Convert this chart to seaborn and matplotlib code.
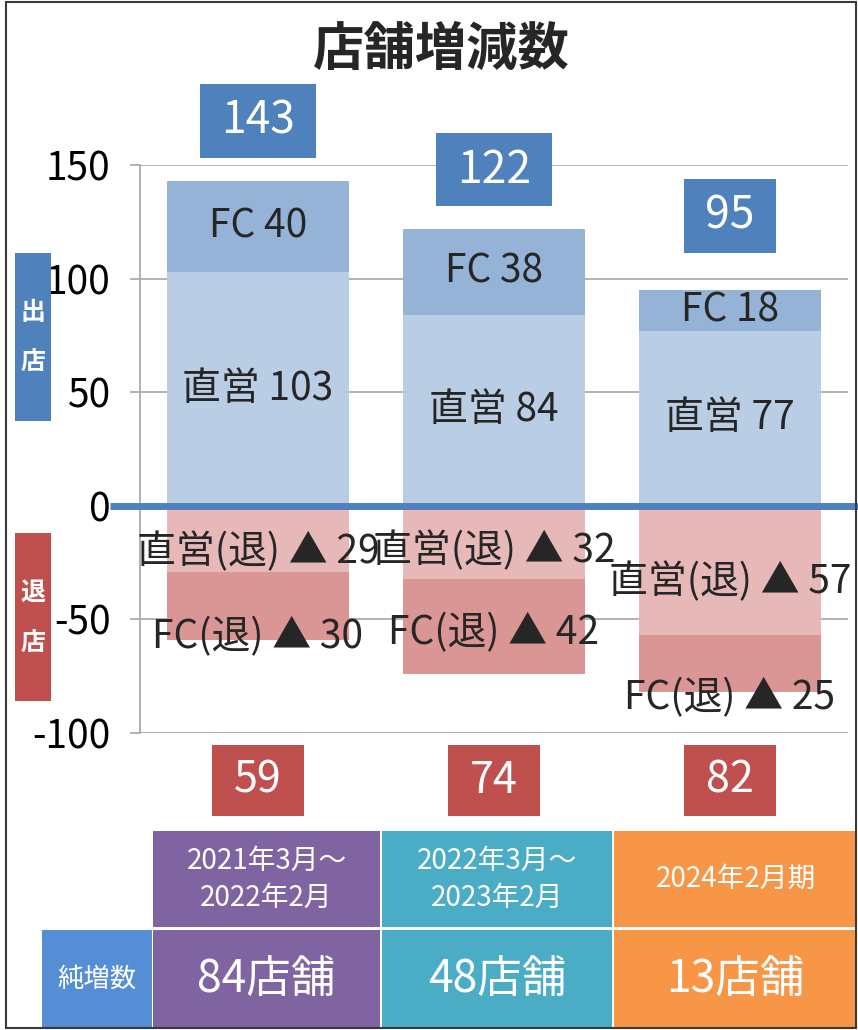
import matplotlib
matplotlib.use("Agg")
import numpy as np
import pandas as pd
import seaborn as sns
import matplotlib.pyplot as plt
import matplotlib.transforms as mtransforms
from matplotlib.path import Path
from matplotlib.patches import Rectangle

# ---------------- data ----------------
periods = ["2021年3月～\n2022年2月", "2022年3月～\n2023年2月", "2024年2月期"]
open_direct = [103, 84, 77]     # 直営 出店
open_fc = [40, 38, 18]          # FC 出店
close_direct = [29, 32, 57]     # 直営 退店
close_fc = [30, 42, 25]         # FC 退店
y_ticks = [-100, -50, 0, 50, 100, 150]

# ---------------- style ----------------
sns.set_theme(style="white")
LAT = "Liberation Sans Narrow"
JP = "Noto Sans CJK JP"
FAM = [LAT, JP, "DejaVu Sans"]
plt.rcParams["font.family"] = FAM

C_DIRECT = "#b9cde5"
C_FC = "#95b3d7"
C_CDIRECT = "#e6b9b8"
C_CFC = "#d99694"
C_BLUE = "#4f81bd"
C_RED = "#c0504d"
COL_COLORS = ["#8064a2", "#4bacc6", "#f79646"]
C_NET = "#558ed5"

W, H = 858, 1030
def fx(px):
    return px / W
def fy(py):
    return 1 - py / H

df = pd.DataFrame({
    "period": periods,
    "open_direct": open_direct,
    "open_total": np.add(open_direct, open_fc),
    "close_direct": -np.asarray(close_direct),
    "close_total": -(np.asarray(close_direct) + np.asarray(close_fc)),
})
net = df["open_total"] + df["close_total"]

fig = plt.figure(figsize=(W / 100, H / 100), dpi=100)
ax = fig.add_axes([fx(140), fy(733), 708 / W, 568 / H])

bw = 0.767
for col, colr in [("open_total", C_FC), ("open_direct", C_DIRECT),
                  ("close_total", C_CFC), ("close_direct", C_CDIRECT)]:
    sns.barplot(data=df, x="period", y=col, order=periods, color=colr,
                saturation=1, width=bw, errorbar=None, linewidth=0, ax=ax)

ax.set_ylim(-100, 150)
ax.set_xlim(-0.5, len(periods) - 0.5)
ax.set_yticks(y_ticks)
ax.set_yticklabels([str(t) for t in y_ticks])
ax.set_xticks([])
ax.set_xlabel("")
ax.set_ylabel("")
ax.yaxis.grid(True, color="#a6a6a6", linewidth=1.2)
ax.set_axisbelow(True)
for s in ["top", "right", "bottom"]:
    ax.spines[s].set_visible(False)
ax.spines["left"].set_color("#a6a6a6")
ax.spines["left"].set_linewidth(1.2)
ax.tick_params(axis="y", which="major", left=True, length=7.2, width=1.2,
               color="#a6a6a6", pad=14, labelsize=28, labelcolor="black")
for lab in ax.get_yticklabels():
    lab.set_family(FAM)

# zero line extending beyond the axes
trans = mtransforms.blended_transform_factory(fig.transFigure, ax.transData)
ax.plot([fx(110), 1.0], [0, 0], transform=trans, color=C_BLUE, lw=5,
        clip_on=False, zorder=6, solid_capstyle="butt")

# labels inside bars
neg_shift_direct = [-6, -4, -5]
neg_shift_fc = [-14, -3, -15]
for i in range(len(periods)):
    d, f = open_direct[i], open_fc[i]
    ax.text(i, d / 2, f"直営 {d}", ha="center", va="center", fontsize=28,
            family=FAM, zorder=7)
    ax.text(i, d + f / 2, f"FC {f}", ha="center", va="center", fontsize=28,
            family=FAM, zorder=7)
    cd, cf = close_direct[i], close_fc[i]
    ax.text(i, -cd / 2 + neg_shift_direct[i], f"直営(退) ▲ {cd}", ha="center",
            va="center", fontsize=28, family=FAM, zorder=7)
    ax.text(i, -(cd + cf / 2) + neg_shift_fc[i], f"FC(退) ▲ {cf}", ha="center",
            va="center", fontsize=28, family=FAM, zorder=7)


def pad_box(px, py):
    def style(x0, y0, width, height, mutation_size):
        dx, dy = px * mutation_size, py * mutation_size
        x1, y1 = x0 - dx, y0 - dy
        x2, y2 = x0 + width + dx, y0 + height + dy
        return Path([(x1, y1), (x2, y1), (x2, y2), (x1, y2), (x1, y1)], closed=True)
    return style

# totals above bars
top_offsets = [60, 59, 74]
for i in range(len(periods)):
    tot = int(df["open_total"][i])
    ax.annotate(str(tot), xy=(i, tot), xytext=(0, top_offsets[i]),
                textcoords="offset pixels", ha="center", va="center",
                fontsize=32, color="white", family=FAM, zorder=8,
                annotation_clip=False,
                bbox=dict(boxstyle=pad_box(0.47, 0.31), fc=C_BLUE, ec="none"))
# closures total below axes
for i in range(len(periods)):
    tot = -int(df["close_total"][i])
    ax.text(i, -121, str(tot), ha="center", va="center", fontsize=31,
            color="white", family=FAM, zorder=8, clip_on=False,
            bbox=dict(boxstyle=pad_box(0.52, 0.32), fc=C_RED, ec="none"))

# title
fig.text(fx(441), fy(49), "店舗増減数", ha="center", va="center", fontsize=37,
         weight="bold", family=[JP, "DejaVu Sans"])

# side labels
fig.patches.append(Rectangle((fx(15), fy(421)), 36 / W, 168 / H,
                             transform=fig.transFigure, fc=C_BLUE, ec="none"))
fig.patches.append(Rectangle((fx(15), fy(701)), 36 / W, 168 / H,
                             transform=fig.transFigure, fc=C_RED, ec="none"))
for ch, yy in [("出", 313), ("店", 362), ("退", 593), ("店", 643)]:
    fig.text(fx(33), fy(yy), ch, ha="center", va="center", fontsize=18,
             weight="bold", color="white", family=[JP])

# bottom table
col_edges = [(153, 380), (382, 612), (614, 857)]
row1 = (831, 927)
row2 = (930, 1028)
for i, (x0, x1) in enumerate(col_edges):
    for (y0, y1) in (row1, row2):
        fig.patches.append(Rectangle((fx(x0), fy(y1)), (x1 - x0) / W, (y1 - y0) / H,
                                     transform=fig.transFigure, fc=COL_COLORS[i], ec="none"))
    xc = (x0 + x1) / 2
    fig.text(fx(xc), fy((row1[0] + row1[1]) / 2), periods[i], ha="center", va="center",
             fontsize=20, color="white", family=FAM, linespacing=1.3)
    fig.text(fx(xc), fy((row2[0] + row2[1]) / 2), f"{int(net[i])}店舗", ha="center",
             va="center", fontsize=32, color="white", family=FAM)
fig.patches.append(Rectangle((fx(42), fy(row2[1])), 110 / W, (row2[1] - row2[0]) / H,
                             transform=fig.transFigure, fc=C_NET, ec="none"))
fig.text(fx(97), fy((row2[0] + row2[1]) / 2), "純増数", ha="center", va="center",
         fontsize=19, color="white", family=FAM)

# outer frame
fig.patches.append(Rectangle((fx(6), fy(1028)), 850 / W, 1026 / H,
                             transform=fig.transFigure, fill=False, ec="#3a3a3a", lw=1.5))

fig.savefig("out.png", dpi=100)
